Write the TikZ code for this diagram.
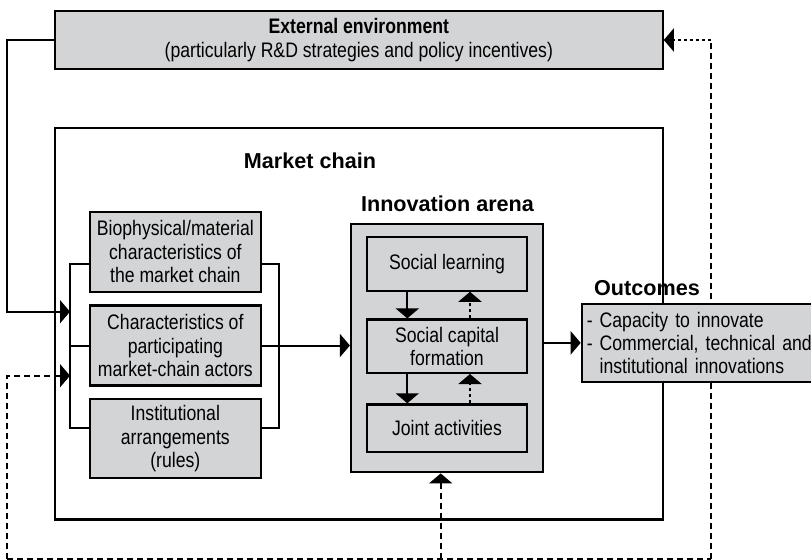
\documentclass[tikz,border=0pt]{standalone}
\usepackage{fontspec}
\setmainfont{Liberation Sans}[FakeStretch=0.84]
\newfontfamily\headfont{Liberation Sans}
\usetikzlibrary{arrows.meta,positioning}
\definecolor{boxgray}{RGB}{211,212,214}
\tikzset{
  graybox/.style={draw=black, line width=1.1pt, fill=boxgray, align=center, inner sep=1pt,
    font=\fontsize{10.5}{11.65}\selectfont},
  heading/.style={font=\headfont\bfseries\fontsize{10.8}{13}\selectfont, anchor=base},
  plainline/.style={line width=1pt},
  link/.style={line width=1pt, -{Triangle[width=11.5pt,length=5pt]}},
  dotlink/.style={line width=1pt, dash pattern=on 1.5pt off 1.5pt, -{Triangle[width=11.5pt,length=5pt]}},
  feedback/.style={line width=1pt, dash pattern=on 3pt off 2pt},
}
\begin{document}
\begin{tikzpicture}[x=0.5pt, y=-0.5pt]
    \useasboundingbox (0,0) rectangle (811,559);

    % Market chain frame
    \node[draw, line width=1.2pt, minimum width=303.85pt, minimum height=195.8pt, inner sep=0pt] (chain) at (358.85,323.5) {};
    \node[heading] (chaintitle) at (310,168.3) {Market chain};

    % External environment
    \node[graybox, minimum width=303.85pt, minimum height=29.3pt] (ext) at (358.85,40)
      {\textbf{External environment}\\(particularly R\&D strategies and policy incentives)};

    % Characteristics of the chain
    \node[graybox, minimum width=85.35pt, minimum height=40pt] (bio) at (175.35,251.7)
      {Biophysical/material\\characteristics of\\the market chain};
    \node[graybox, minimum width=85.35pt, minimum height=40pt, below=5.8pt of bio] (actors)
      {Characteristics of\\participating\\market-chain actors};
    \node[graybox, minimum width=85.35pt, minimum height=39.5pt, below=5.8pt of actors] (rules)
      {Institutional\\arrangements\\(rules)};

    % Innovation arena
    \node[graybox, minimum width=96.15pt, minimum height=124.15pt] (arena) at (447.15,348.15) {};
    \node[heading] (arenatitle) at (447.5,211.7) {Innovation arena};
    \node[graybox, minimum width=80.3pt, minimum height=26.7pt] (learn) at (447,264) {Social learning};
    \node[graybox, minimum width=80.3pt, minimum height=26.7pt, below=13.3pt of learn] (capital) {Social capital\\formation};
    \node[graybox, minimum width=80.3pt, minimum height=23.85pt, below=14.65pt of capital] (joint) {Joint activities};

    \draw[link] ([xshift=-19.85pt]learn.south) -- ([xshift=-19.85pt]capital.north);
    \draw[link] ([xshift=-19.85pt]capital.south) -- ([xshift=-19.85pt]joint.north);
    \draw[dotlink] ([xshift=11.5pt]capital.north) -- ([xshift=11.5pt]learn.south);
    \draw[dotlink] ([xshift=11.5pt]joint.north) -- ([xshift=11.5pt]capital.south);

    % Brackets round the three boxes
    \coordinate (brL) at (70,0);
    \coordinate (brR) at (279.3,0);
    \coordinate (bioL) at ([yshift=-6pt]bio.west);
    \coordinate (bioR) at ([yshift=-6pt]bio.east);
    \coordinate (rulesL) at ([yshift=5.6pt]rules.west);
    \coordinate (rulesR) at ([yshift=5.6pt]rules.east);
    \draw[plainline] (bioL) -- (brL |- bioL) -- (brL |- rulesL) -- (rulesL);
    \draw[plainline] (brL |- actors.west) -- (actors.west);
    \draw[plainline] (bioR) -- (brR |- bioR) -- (brR |- rulesR) -- (rulesR);
    \draw[link] (actors.east) -- (actors.east -| arena.west);

    % Loop from the external environment
    \coordinate (loopL) at (7.3,0);
    \coordinate (inA) at (70,311.7);
    \draw[link] (ext.west) -| (loopL |- inA) -- (inA);

    % Feedback loops
    \coordinate (fbBL) at (7.3,558.6);
    \coordinate (fbBR) at (710.7,558.6);
    \coordinate (fbTop) at (710.7,40);
    \coordinate (fbUp) at (440.7,558.6);
    \coordinate (inB) at (70,375.7);
    \draw[feedback] (fbBL) -- (fbBR);
    \draw[feedback] (fbBR) -- (fbTop);
    \draw[dotlink] (fbTop) -- (ext.east);
    \draw[feedback, -{Triangle[width=11.5pt,length=5pt]}] (fbBL) |- (inB);
    \draw[feedback, -{Triangle[width=11.5pt,length=5pt]}] (fbUp) -- (fbUp |- arena.south);

    % Outcomes
    \node[heading] (outtitle) at (647,295) {Outcomes};
    \node[graybox, anchor=west, align=left, text width=125pt, inner xsep=2.5pt, minimum height=38.85pt] (out) at (580.7,342.85)
      {- Capacity to innovate\\- Commercial, technical and\\\hphantom{- }institutional innovations};
    \draw[link] (out.west -| arena.east) -- (out.west);
\end{tikzpicture}
\end{document}
